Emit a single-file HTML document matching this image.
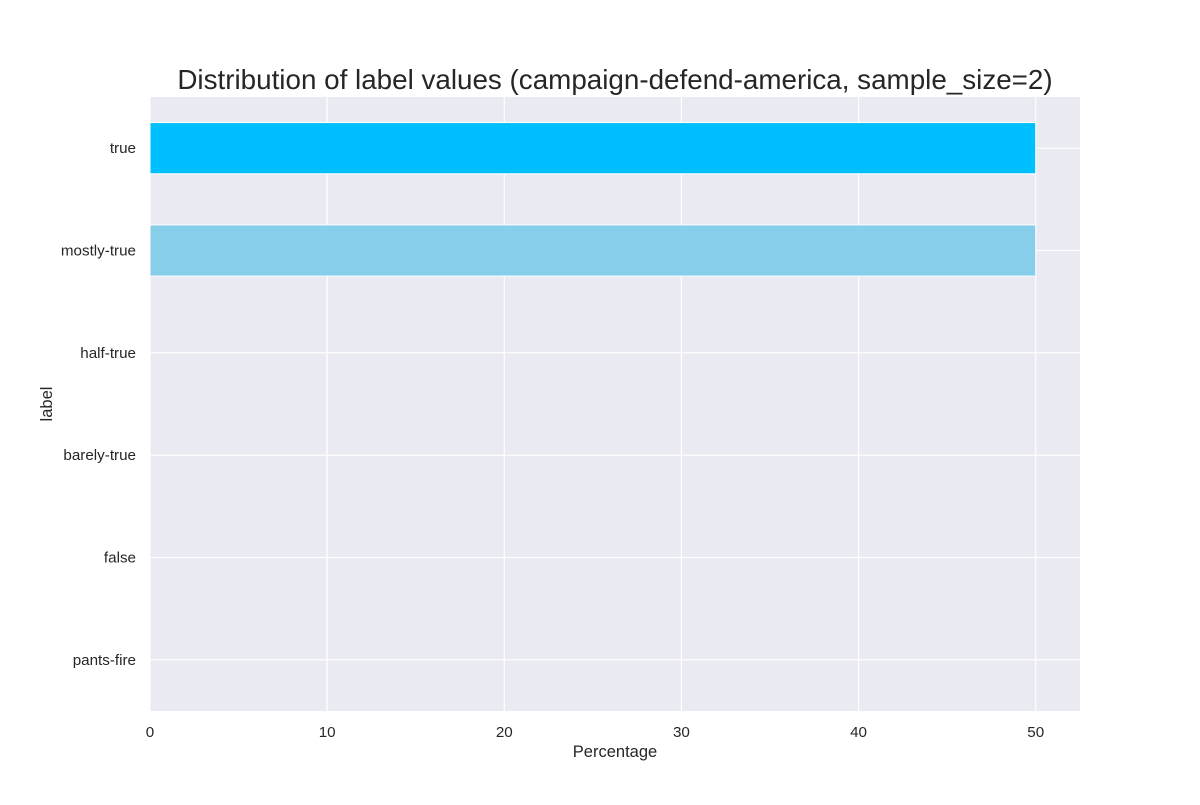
<!DOCTYPE html>
<html><head><meta charset="utf-8"><style>
body{margin:0;background:#fff;font-family:"Liberation Sans",sans-serif}
</style></head><body>
<svg width="1200" height="800" xmlns="http://www.w3.org/2000/svg" font-family="Liberation Sans, sans-serif">
<g id="root"></g>
</svg>
<script>
const categories=["true","mostly-true","half-true","barely-true","false","pants-fire"];
const values=[50,50,0,0,0,0];
const colors=["#00BFFF","#87CEEB","#87CEEB","#87CEEB","#87CEEB","#87CEEB"];
const xTicks=[0,10,20,30,40,50];
const L=150,R=1080,T=97,B=711,XMAX=52.5;
const x=v=>L+(v/XMAX)*(R-L);
const y=i=>T+(i+0.5)*(B-T)/categories.length;
const bw=(B-T)/categories.length*0.5;
const ns="http://www.w3.org/2000/svg";
const root=document.getElementById('root');
function mk(tag,attrs,parent,text){const e=document.createElementNS(ns,tag);for(const k in attrs)e.setAttribute(k,attrs[k]);if(text!==undefined)e.textContent=text;(parent||root).appendChild(e);return e;}
const bg=mk('rect',{x:L,y:T,width:R-L,height:B-T,fill:'#EAEAF2'});


xTicks.forEach(t=>{
 const g=mk('line',{x1:x(t),x2:x(t),y1:T,y2:B,stroke:'#fff','stroke-width':1.2});
 
 
 const tl=mk('text',{x:x(t),y:B+26,'text-anchor':'middle','font-size':15.2,fill:'#262626'},null,t);
 
 
});
categories.forEach((c,i)=>{
 const g=mk('line',{x1:L,x2:R,y1:y(i),y2:y(i),stroke:'#fff','stroke-width':1.2});
 
 
 const tl=mk('text',{x:L-14,y:y(i)+5,'text-anchor':'end','font-size':15.2,fill:'#262626'},null,c);
 
 
});
values.forEach((v,i)=>{
 if(v<=0)return;
 const b=mk('rect',{x:x(0),y:y(i)-bw/2,width:x(v)-x(0),height:bw,fill:colors[i],stroke:'#fff','stroke-width':1});
 
 
});
const t=mk('text',{x:615,y:89,'text-anchor':'middle','font-size':27.8,fill:'#262626'},null,'Distribution of label values (campaign-defend-america, sample_size=2)');


const xt=mk('text',{x:615,y:757,'text-anchor':'middle','font-size':16.5,fill:'#262626'},null,'Percentage');


const yt=mk('text',{x:52,y:404,'text-anchor':'middle','font-size':16.5,fill:'#262626',transform:'rotate(-90 52 404)'},null,'label');


</script>
</body></html>
